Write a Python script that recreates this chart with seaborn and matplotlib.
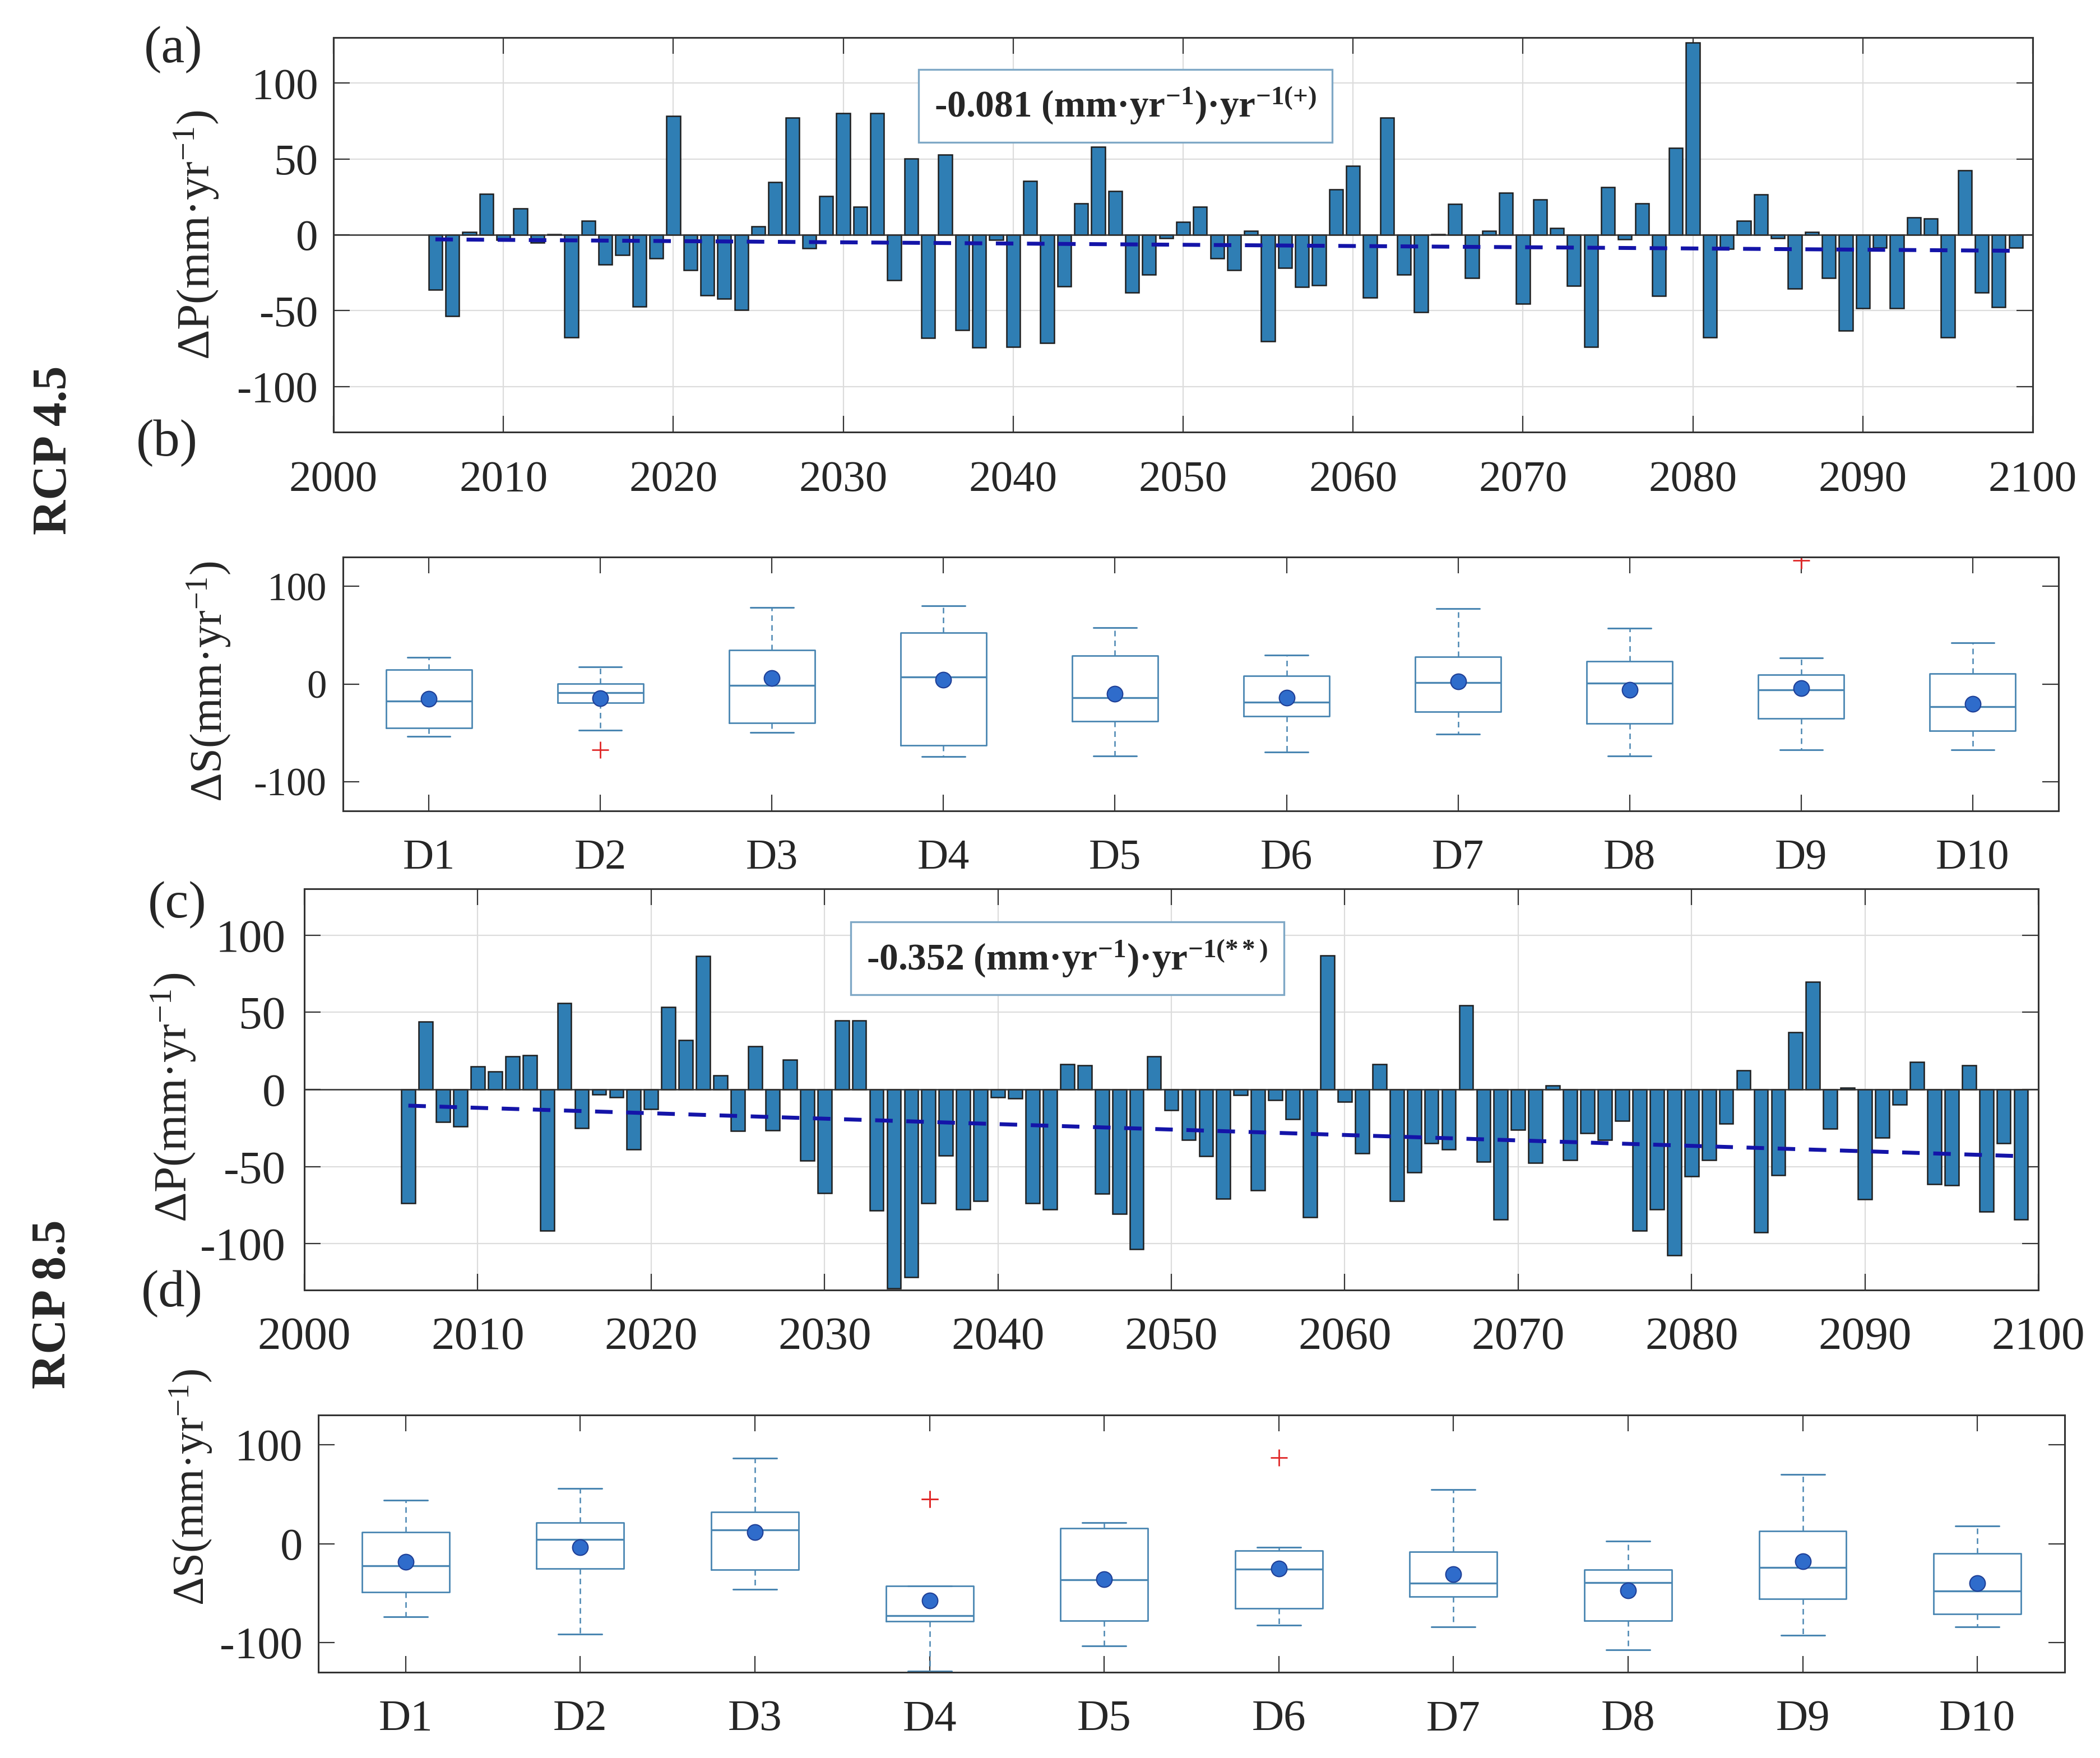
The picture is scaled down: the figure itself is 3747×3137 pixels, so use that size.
import numpy as np
import pandas as pd
import matplotlib
matplotlib.use("Agg")
import matplotlib.pyplot as plt
import seaborn as sns

# ---------------- data ----------------
years = list(range(2006, 2100))

dp_rcp45 = [-36.3, -53.4, 1.7, 27.0,
            -3.5, 17.5, -5.0, 0.5, -67.7, 9.4, -19.4, -13.3, -47.3, -15.5,
            78.2, -23.2, -39.8, -42.2, -49.6, 5.4, 34.9, 77.1, -8.7, 25.5,
            80.1, 18.3, 80.1, -29.8, 50.2, -68.0, 52.7, -62.8, -74.3, -3.5,
            -73.8, 35.3, -71.2, -33.9, 20.6, 57.9, 28.8, -38.2, -26.2, -2.3,
            8.4, 18.5, -15.5, -23.4, 2.6, -70.0, -21.8, -34.2, -33.2, 29.8,
            45.4, -41.4, 77.1, -26.4, -51.1, 0.5, 20.2, -28.4, 2.6, 27.6,
            -45.4, 23.2, 4.4, -33.7, -73.8, 31.4, -2.8, 20.6, -40.3, 57.2,
            126.7, -67.7, -9.2, 9.4, 26.5, -2.3, -35.4, 1.7, -28.4, -63.0,
            -48.2, -8.4, -48.5, 11.3, 10.8, -67.7, 42.4, -38.0, -47.6, -8.4]

dp_rcp85 = [-73.8, 43.9, -20.9, -23.8,
            14.9, 11.6, 21.4, 22.2, -91.6, 55.9, -25.1, -3.1, -5.0, -38.8,
            -12.6, 53.3, 31.8, 86.5, 8.9, -27.0, 27.9, -26.5, 19.3, -46.0,
            -67.2, 44.8, 44.8, -78.3, -129.0, -121.7, -73.8, -42.7, -77.8, -72.1,
            -5.1, -5.8, -73.8, -77.8, 16.2, 15.6, -67.4, -80.7, -103.4, 21.5,
            -13.3, -32.5, -43.1, -70.8, -3.8, -65.3, -6.8, -19.1, -82.7, 86.7,
            -8.0, -41.4, 16.4, -72.1, -53.8, -34.9, -39.0, 54.4, -47.0, -84.4,
            -26.3, -47.4, 2.4, -45.8, -28.2, -32.8, -20.5, -91.6, -77.8, -107.5,
            -56.4, -45.6, -22.2, 12.5, -92.6, -55.6, 36.9, 69.9, -25.6, 1.0,
            -71.3, -31.1, -9.9, 17.8, -61.2, -62.2, 15.7, -79.0, -35.0, -84.4]

# linear trends: (slope per year, trend value at first year)
trend_rcp45 = (-0.081, -3.0)
trend_rcp85 = (-0.352, -10.5)

trend_text_rcp45 = r"-0.081 (mm·yr$^{\mathbf{-1}}$)·yr$^{\mathbf{-1(+)}}$"
trend_text_rcp85 = r"-0.352 (mm·yr$^{\mathbf{-1}}$)·yr$^{\mathbf{-1(**)}}$"

decade_labels = ["D1", "D2", "D3", "D4", "D5", "D6", "D7", "D8", "D9", "D10"]
decade_starts = [2000, 2010, 2020, 2030, 2040, 2050, 2060, 2070, 2080, 2090]
year_ticks = [2000, 2010, 2020, 2030, 2040, 2050, 2060, 2070, 2080, 2090, 2100]
dp_ticks = [-100, -50, 0, 50, 100]
ds_ticks = [-100, 0, 100]

panel_labels = ["(a)", "(b)", "(c)", "(d)"]
scenario_labels = ["RCP 4.5", "RCP 8.5"]
ylabel_dp = "ΔP(mm·yr$^{-1}$)"
ylabel_ds = "ΔS(mm·yr$^{-1}$)"

# ---------------- style ----------------
sns.set_style("ticks")
plt.rcParams["font.family"] = ["Liberation Serif", "DejaVu Serif"]
plt.rcParams["mathtext.fontset"] = "custom"
plt.rcParams["mathtext.rm"] = "Liberation Serif"
plt.rcParams["mathtext.it"] = "Liberation Serif:italic"
plt.rcParams["mathtext.bf"] = "Liberation Serif:bold"
plt.rcParams["axes.unicode_minus"] = False

BAR = "#2F7EB4"
EDGE = "#1E1E1E"
TREND = "#1414A8"
BOXC = "#4A86B2"
SPINE = "#333333"

W, H = 3748, 3137
fig = plt.figure(figsize=(W / 100, H / 100), dpi=100)


def px_axes(l, r, t, b):
    return fig.add_axes([l / W, 1 - b / H, (r - l) / W, (b - t) / H])


def style_axes(ax, xfs, yfs, xpad, ypad):
    for s in ax.spines.values():
        s.set_linewidth(2.2)
        s.set_color(SPINE)
    ax.tick_params(axis="both", direction="in", length=21, width=1.6,
                   color=SPINE, top=True, right=True)
    ax.tick_params(axis="x", labelsize=xfs, pad=xpad)
    ax.tick_params(axis="y", labelsize=yfs, pad=ypad)


def bar_panel(ax, vals, trend, text, text_xy, ylab_xy):
    df = pd.DataFrame({"year": years, "dp": vals})
    sns.barplot(data=df, x="year", y="dp", native_scale=True, width=0.8,
                color=BAR, edgecolor=EDGE, linewidth=1.8, saturation=1,
                errorbar=None, ax=ax, zorder=2)
    slope, start = trend
    yr = np.array(years)
    ax.plot(yr, start + slope * (yr - yr[0]), color=TREND, lw=5,
            ls=(0, (4.5, 3.5)), zorder=4)
    ax.axhline(0, color=SPINE, lw=1.8, zorder=3)
    ax.set_xlim(2000, 2100)
    ax.set_ylim(-130, 130)
    ax.set_xticks(year_ticks)
    ax.set_yticks(dp_ticks)
    ax.grid(True, color="#DCDCDC", lw=1.6)
    ax.set_axisbelow(True)
    ax.set_xlabel("")
    ax.set_ylabel(ylabel_dp, fontsize=60, va="center")
    ax.yaxis.set_label_coords(*ylab_xy)
    ax.text(text_xy[0], text_xy[1], text, ha="center", va="center",
            fontsize=48.5, fontweight="bold", zorder=6,
            bbox=dict(boxstyle="square,pad=0.42", fc="white",
                      ec="#7FA8C6", lw=2.4))


def box_panel(ax, vals, ylab_xy, ylab_fs):
    v_all = np.array(vals)
    yr = np.array(years)
    stats = []
    for lab, start in zip(decade_labels, decade_starts):
        v = v_all[(yr >= start) & (yr < start + 10)]
        q1, med, q3 = np.percentile(v, [25, 50, 75], method="hazen")
        iqr = q3 - q1
        inside = v[(v >= q1 - 1.5 * iqr) & (v <= q3 + 1.5 * iqr)]
        fl = v[(v < q1 - 1.5 * iqr) | (v > q3 + 1.5 * iqr)]
        stats.append(dict(label=lab, q1=q1, med=med, q3=q3,
                          whislo=inside.min(), whishi=inside.max(),
                          fliers=fl, mean=v.mean()))
    ax.bxp(stats, positions=list(range(1, 11)), widths=0.5, capwidths=0.25,
           showmeans=True, showfliers=True, patch_artist=False,
           boxprops=dict(color=BOXC, lw=2.0),
           medianprops=dict(color=BOXC, lw=2.4),
           whiskerprops=dict(color=BOXC, lw=1.8, ls=(0, (4, 3))),
           capprops=dict(color=BOXC, lw=2.2),
           flierprops=dict(marker="+", markeredgecolor="#E02828",
                           markersize=21, markeredgewidth=2.0),
           meanprops=dict(marker="o", markerfacecolor="#2F6CCB",
                          markeredgecolor="#1F3F96", markersize=20,
                          markeredgewidth=1.5))
    ax.set_xlim(0.5, 10.5)
    ax.set_ylim(-130, 130)
    ax.set_xticks(list(range(1, 11)))
    ax.set_xticklabels(decade_labels)
    ax.set_yticks(ds_ticks)
    ax.set_ylabel(ylabel_ds, fontsize=ylab_fs, va="center")
    ax.yaxis.set_label_coords(*ylab_xy)


# panel (a)
ax_a = px_axes(595, 3627, 67, 771)
bar_panel(ax_a, dp_rcp45, trend_rcp45, trend_text_rcp45, (2046.6, 85),
          (-0.0805, 0.5))
style_axes(ax_a, 57, 57, 36, 20)

# panel (b)
ax_b = px_axes(612, 3673, 994, 1447)
box_panel(ax_b, dp_rcp45, (-0.078, 0.51), 58)
style_axes(ax_b, 55, 51, 36, 21)

# panel (c)
ax_c = px_axes(543, 3637, 1586, 2302)
bar_panel(ax_c, dp_rcp85, trend_rcp85, trend_text_rcp85, (2044, 85),
          (-0.0753, 0.48))
style_axes(ax_c, 60, 60, 34, 24)

# panel (d)
ax_d = px_axes(568, 3684, 2525, 2984)
box_panel(ax_d, dp_rcp85, (-0.073, 0.72), 57)
style_axes(ax_d, 57, 58, 35, 20)

# panel labels
for lab, (x, y) in zip(panel_labels, [(309, 89), (298, 791), (316, 1615), (307, 2309)]):
    fig.text(x / W, 1 - y / H, lab, ha="center", va="center", fontsize=68)

for lab, (x, y) in zip(scenario_labels, [(98, 803), (95, 2327)]):
    fig.text(x / W, 1 - y / H, lab, ha="center", va="center", fontsize=62,
             fontweight="bold", rotation=90)

fig.savefig("out.png", dpi=100, facecolor="white")
